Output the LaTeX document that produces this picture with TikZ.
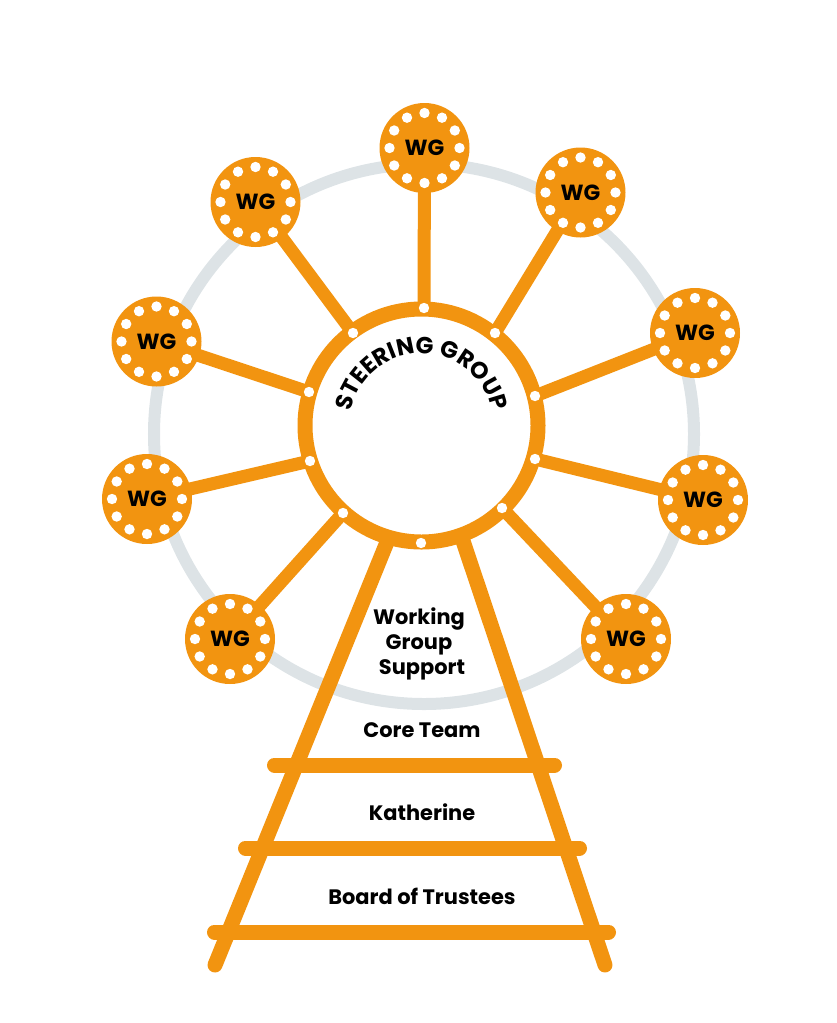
\documentclass[tikz,border=0pt]{standalone}
\usepackage{fontspec}
\setmainfont{Poppins}
\usetikzlibrary{decorations.text,calc}
\definecolor{wgorange}{RGB}{242,148,16}
\definecolor{rimgrey}{RGB}{221,227,230}
\begin{document}
\begin{tikzpicture}[x=1bp,y=-1bp,
  spoke/.style={draw=wgorange,line width=13bp},
  beam/.style={draw=wgorange,line width=15bp,line cap=round},
  wg/.style={circle,fill=wgorange,minimum size=90bp,inner sep=0pt,
    font=\bfseries\fontsize{22}{22}\selectfont,text=black},
  lbl/.style={font=\bfseries\fontsize{21}{25}\selectfont,text=black,inner sep=0pt,anchor=base}
]
\useasboundingbox (0,0) rectangle (837,1023);
% big grey wheel
\node[circle,draw=rimgrey,line width=12bp,minimum size=540bp,inner sep=0pt] (rim) at (424,434) {};
% hub and dots on the hub ring
\coordinate (hub) at (421.5,425.5);
\coordinate (d1) at (424,308);
\coordinate (d2) at (495,333);
\coordinate (d3) at (535,396);
\coordinate (d4) at (535,459);
\coordinate (d5) at (502,508);
\coordinate (d6) at (421,543);
\coordinate (d7) at (343,513);
\coordinate (d8) at (310,461);
\coordinate (d9) at (309,392);
\coordinate (d10) at (353,333);
% working group centres
\coordinate (c1) at (424.5,148);
\coordinate (c2) at (580.5,192.5);
\coordinate (c3) at (695,333);
\coordinate (c4) at (703,500);
\coordinate (c5) at (626,639);
\coordinate (c7) at (230,639);
\coordinate (c8) at (147,499);
\coordinate (c9) at (156.5,341.5);
\coordinate (c10) at (255.5,202);
% spokes
\foreach \i in {1,2,3,4,5,7,8,9,10} \draw[spoke] (d\i) -- (c\i);
% legs and crossbars
\coordinate (lt) at (396,520);
\coordinate (lb) at (215,965);
\coordinate (rt) at (456,520);
\coordinate (rb) at (605,965);
\draw[beam] (lt) -- (lb);
\draw[beam] (rt) -- (rb);
\coordinate (b1l) at (274.5,765); \coordinate (b1r) at (554.5,765);
\coordinate (b2l) at (245.5,848); \coordinate (b2r) at (579.5,848);
\coordinate (b3l) at (214.5,932); \coordinate (b3r) at (608.5,932);
\draw[beam] (b1l) -- (b1r);
\draw[beam] (b2l) -- (b2r);
\draw[beam] (b3l) -- (b3r);
% hub ring
\node[circle,draw=wgorange,line width=15bp,fill=white,minimum size=233bp,inner sep=0pt] (sg) at (hub) {};
\foreach \i in {1,...,10} \fill[white] (d\i) circle (5.2);
% steering group text
\path[decorate,decoration={text along path,text align=center,
  text={|\bfseries\fontsize{23.5}{23.5}\selectfont|STEERING GROUP}}]
  (hub) ++(-178:72) arc[start angle=-178,end angle=-2,radius=72];
% working group circles
\foreach \i in {1,2,3,4,5,7,8,9,10} {
  \node[wg] (w\i) at (c\i) {WG};
  \foreach \a in {0,30,...,330} \fill[white] ($(c\i)+(\a:35)$) circle (5.2);
}
% labels
\node[lbl] (t1) at (419,624) {Working};
\node[lbl] (t2) at (419,649) {Group};
\node[lbl] (t3) at (422,674) {Support};
\node[lbl] (t4) at (422,737) {Core Team};
\node[lbl] (t5) at (422,820) {Katherine};
\node[lbl] (t6) at (422,904) {Board of Trustees};
\end{tikzpicture}
\end{document}
